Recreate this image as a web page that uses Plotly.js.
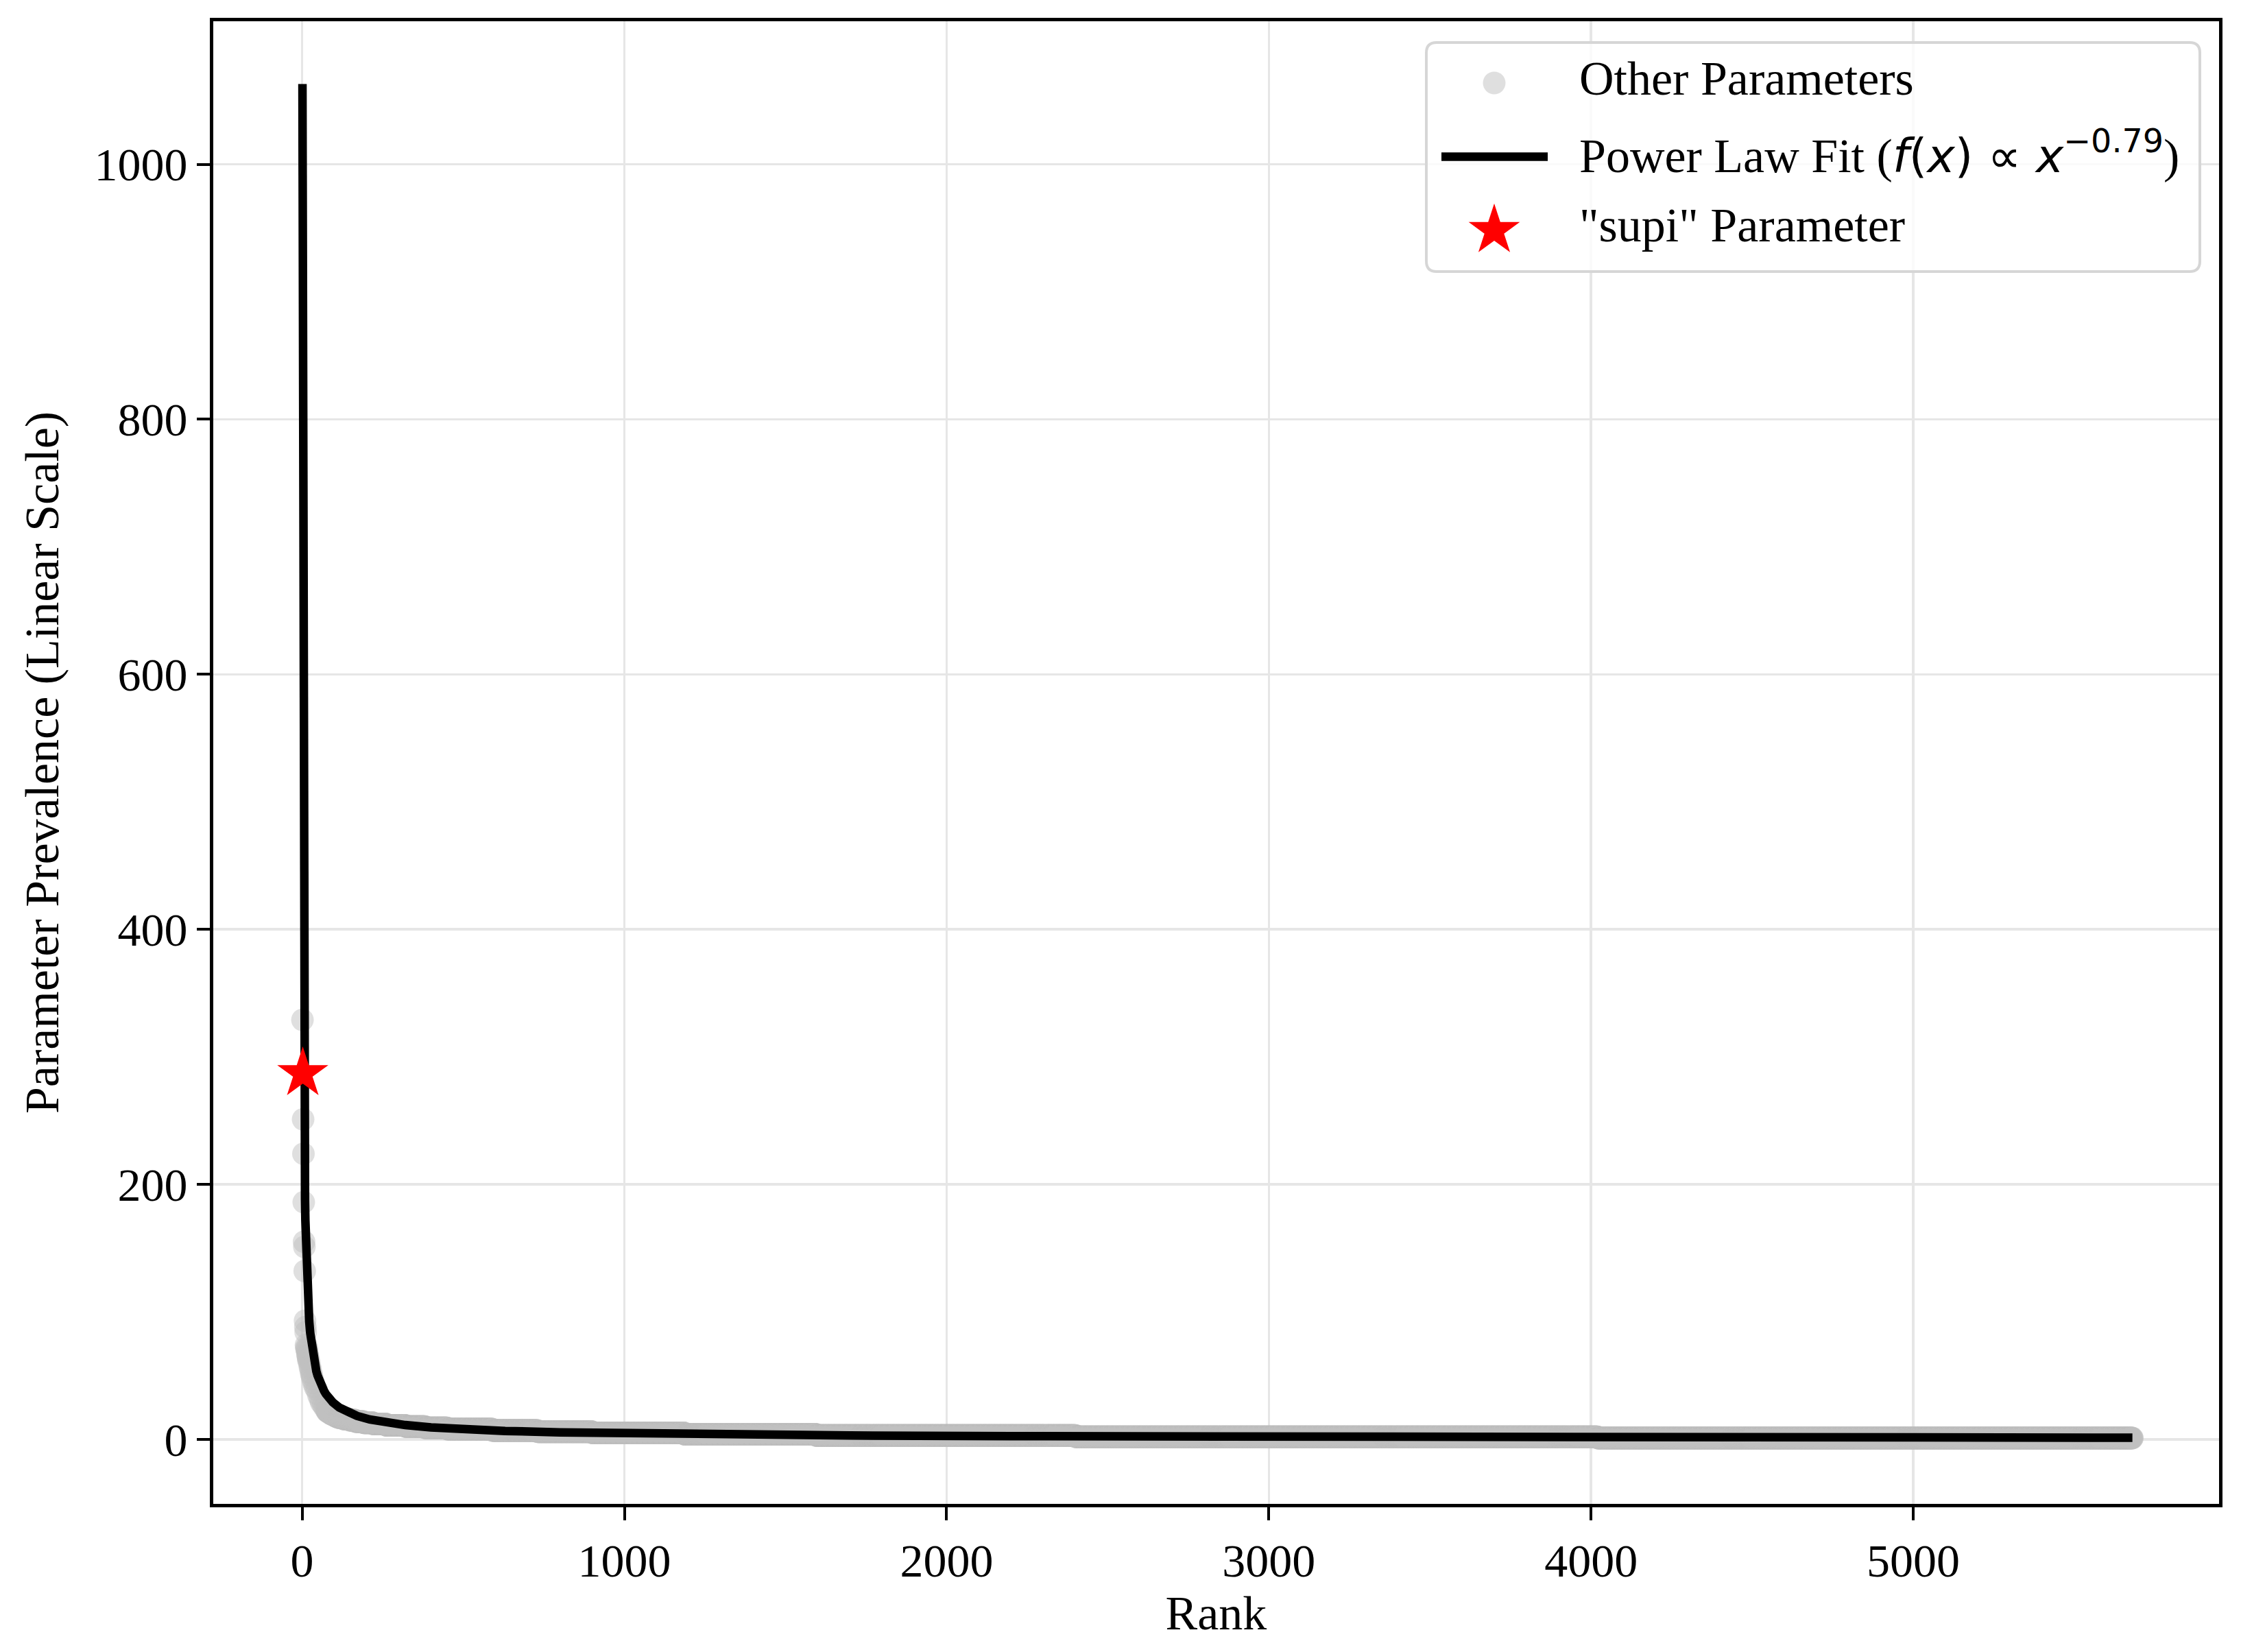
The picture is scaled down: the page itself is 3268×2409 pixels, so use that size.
<!DOCTYPE html>
<html><head><meta charset="utf-8">
<script src="https://cdn.plot.ly/plotly-3.0.1.min.js"></script>
<style>html,body{margin:0;padding:0;background:#fff;} #chart{width:3268px;height:2409px;}</style>
</head><body><div id="chart"></div>
<script>
// ---------------- Data ----------------
// Top-ranked "other" parameters (rank, prevalence)
const headRanks  = [1, 3, 4, 5, 6, 7, 8, 9, 10, 11, 12, 13, 14, 15, 16, 17, 18, 19, 20, 22, 24, 26, 28, 30, 33, 36, 40, 45, 50, 55, 59, 65, 70, 76];
const headValues = [329, 251, 224, 186, 155, 151, 132, 93, 88, 84, 74, 72, 71, 70, 68, 66, 65, 63, 62, 60, 57, 55, 52, 50, 47, 44, 41, 39, 35, 32, 29, 27, 25, 23];
// Long tail: integer prevalence levels and the last rank that holds each level
const tailLevels   = [22, 21, 20, 19, 18, 17, 16, 15, 14, 13, 12, 11, 10, 9, 8, 7, 6, 5, 4, 3, 2, 1];
const tailLastRank = [82, 88, 95, 103, 112, 128, 147, 165, 190, 220, 260, 320, 381, 450, 590, 730, 900, 1186, 1594, 2400, 4020, 5680];
// "supi" parameter
const supiRank  = [2];
const supiValue = [287];
// Power-law fit curve (rank, fitted prevalence)
const fitRanks  = [1, 2, 3, 4, 5, 6, 7, 8, 9, 10, 12, 14, 15, 17, 20, 22, 25, 28, 33, 36, 40, 44, 48, 52, 57, 62, 68, 74, 80, 87, 95, 115, 140, 170, 210, 260, 320, 400, 500, 630, 800, 1000, 1300, 1700, 2200, 2800, 3500, 4300, 5000, 5680];
const fitValues = [1063, 615, 446, 356, 298, 258, 229, 206, 187.5, 172, 149, 132, 125, 113, 100, 92.5, 83.6, 76.5, 67, 62.7, 58, 53.5, 50, 46.9, 43.6, 40.8, 38, 35.5, 33.3, 31.2, 29.1, 25, 21.4, 18.4, 15.6, 13.1, 11.2, 9.4, 7.9, 6.6, 5.5, 4.6, 3.75, 3.05, 2.5, 2.1, 1.8, 1.55, 1.4, 1.3];
// Axis ticks
const xTickVals = [0, 1000, 2000, 3000, 4000, 5000];
const yTickVals = [0, 200, 400, 600, 800, 1000];
// Legend labels
const legendLabels = [
  'Other Parameters',
  'Power Law Fit (<span style="font-family:\'DejaVu Sans\';font-size:68px"><i>f</i>(<i>x</i>) ∝ <i>x</i><sup>−0.79</sup></span>)',
  '"supi" Parameter'
];

// ---------------- Build the scatter series from the readings ----------------
const otherX = headRanks.slice();
const otherY = headValues.slice();
let start = headRanks[headRanks.length - 1] + 1;
tailLevels.forEach(function (lv, i) {
  for (let r = start; r <= tailLastRank[i]; r++) { otherX.push(r); otherY.push(lv); }
  start = tailLastRank[i] + 1;
});

// ---------------- Layout geometry ----------------
const FW = 3268, FH = 2409;
const ML = 311, MR = 32, MT = 31, MB = 216;
const PW = FW - ML - MR, PH = FH - MT - MB;
const xp = function (px) { return (px - ML) / PW; };
const yp = function (py) { return (FH - MB - py) / PH; };
const SERIF = 'Liberation Serif, Times New Roman, serif';

const traces = [
  { type: 'scatter', mode: 'markers', x: otherX, y: otherY, name: legendLabels[0],
    marker: { color: '#c0c0c0', opacity: 0.5, size: 33, line: { width: 0 } }, showlegend: false },
  { type: 'scatter', mode: 'lines', x: fitRanks, y: fitValues, name: 'Power Law Fit',
    line: { color: '#000000', width: 12.5 }, showlegend: false },
  { type: 'scatter', mode: 'markers', x: supiRank, y: supiValue, name: legendLabels[2],
    marker: { color: '#ff0000', symbol: 'star', size: 56, line: { width: 0 } }, showlegend: false }
];

// rounded legend frame
function roundedRect(x0, y0, x1, y1, r) {
  const rx = r / PW, ry = r / PH;
  const a = xp(x0), b = xp(x1), t = yp(y0), u = yp(y1);
  return 'M' + (a + rx) + ',' + t + ' L' + (b - rx) + ',' + t + ' Q' + b + ',' + t + ' ' + b + ',' + (t - ry) +
    ' L' + b + ',' + (u + ry) + ' Q' + b + ',' + u + ' ' + (b - rx) + ',' + u +
    ' L' + (a + rx) + ',' + u + ' Q' + a + ',' + u + ' ' + a + ',' + (u + ry) +
    ' L' + a + ',' + (t - ry) + ' Q' + a + ',' + t + ' ' + (a + rx) + ',' + t + ' Z';
}
function starPath(R, ratio) {
  let p = '';
  for (let k = 0; k < 10; k++) {
    const ang = Math.PI / 2 + k * Math.PI / 5;
    const rr = (k % 2 === 0) ? R : R * ratio;
    p += (k === 0 ? 'M' : ' L') + (rr * Math.cos(ang)).toFixed(2) + ',' + (rr * Math.sin(ang)).toFixed(2);
  }
  return p + ' Z';
}

const symX = 2179;
const shapes = [
  { type: 'path', xref: 'paper', yref: 'paper', layer: 'above', path: roundedRect(2080, 62, 3208, 396, 15),
    fillcolor: 'rgba(255,255,255,0.8)', line: { color: '#d6d6d6', width: 4 } },
  { type: 'circle', xref: 'paper', yref: 'paper', layer: 'above', xsizemode: 'pixel', ysizemode: 'pixel',
    xanchor: xp(symX), yanchor: yp(121), x0: -16.5, x1: 16.5, y0: -16.5, y1: 16.5,
    fillcolor: 'rgba(192,192,192,0.5)', line: { width: 0 } },
  { type: 'line', xref: 'paper', yref: 'paper', layer: 'above', x0: xp(2102), x1: xp(2257), y0: yp(228.5), y1: yp(228.5),
    line: { color: '#000000', width: 12.5 } },
  { type: 'path', xref: 'paper', yref: 'paper', layer: 'above', xsizemode: 'pixel', ysizemode: 'pixel',
    xanchor: xp(symX), yanchor: yp(336), path: starPath(39.3, 0.382),
    fillcolor: '#ff0000', line: { width: 0 } }
];

const rowBaselines = [139, 252, 353];
const rowDescent = [15, 16, 15];
const annotations = legendLabels.map(function (txt, i) {
  return { xref: 'paper', yref: 'paper', x: xp(2302), y: yp(rowBaselines[i] + rowDescent[i]),
    xanchor: 'left', yanchor: 'bottom', text: txt, showarrow: false, borderpad: 0,
    font: { family: SERIF, size: 70, color: '#000000' } };
});

const axisCommon = {
  showline: true, linecolor: '#000000', linewidth: 5, mirror: true,
  ticks: 'outside', ticklen: 19, tickwidth: 4, tickcolor: '#000000',
  showgrid: true, gridcolor: '#e6e6e6', gridwidth: 3.5, zeroline: false,
  tickfont: { family: SERIF, size: 68, color: '#000000' }, automargin: false, fixedrange: true
};

const layout = {
  width: FW, height: FH,
  margin: { l: ML, r: MR, t: MT, b: MB, pad: 0 },
  paper_bgcolor: '#ffffff', plot_bgcolor: '#ffffff',
  showlegend: false, hovermode: false,
  font: { family: SERIF, color: '#000000' },
  xaxis: Object.assign({}, axisCommon, {
    range: [-275.8, 5948.9], tickmode: 'array', tickvals: xTickVals, ticktext: xTickVals.map(String),
    title: { text: 'Rank', font: { family: SERIF, size: 70, color: '#000000' }, standoff: 9 }
  }),
  yaxis: Object.assign({}, axisCommon, {
    range: [-50.6, 1112.2], tickmode: 'array', tickvals: yTickVals, ticktext: yTickVals.map(String),
    title: { text: 'Parameter Prevalence (Linear Scale)', font: { family: SERIF, size: 70, color: '#000000' }, standoff: 30 }
  }),
  shapes: shapes,
  annotations: annotations
};

Plotly.newPlot('chart', traces, layout, { staticPlot: true, displayModeBar: false });
</script>
</body></html>
